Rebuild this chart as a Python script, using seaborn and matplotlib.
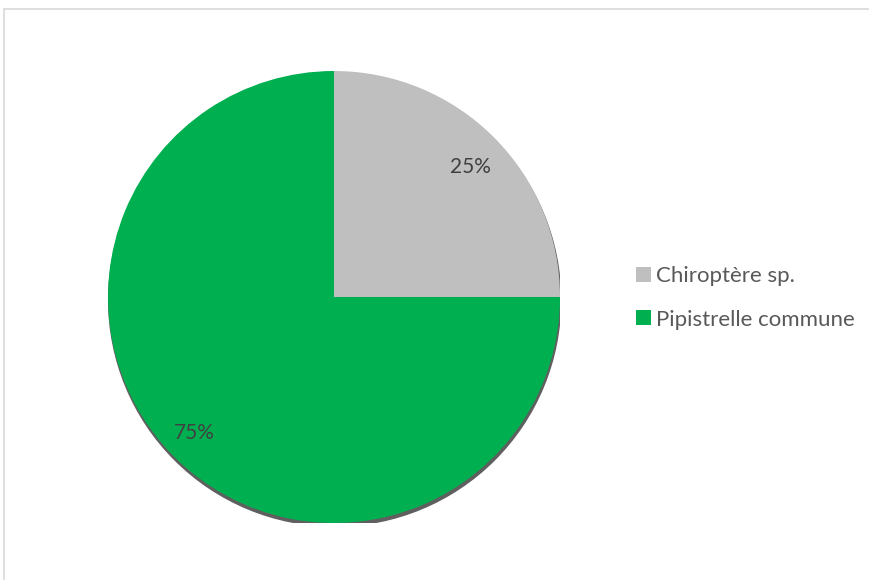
import matplotlib
matplotlib.use("Agg")
import matplotlib.pyplot as plt
import seaborn as sns
from matplotlib.patches import Circle
from matplotlib.lines import Line2D

categories = ["Chiroptère sp.", "Pipistrelle commune"]
values = [25, 75]
colors = ["#BFBFBF", "#00B050"]

sns.set_theme(style="white")
plt.rcParams['font.family'] = ['Lato', 'DejaVu Sans']

W, H = 870, 580
fig = plt.figure(figsize=(W / 100, H / 100), dpi=100)
fig.patch.set_facecolor("white")

# chart border (top and left visible)
bx, by = 4.5 / W, 1 - 8.5 / H
fig.add_artist(Line2D([bx, 1.01], [by, by], transform=fig.transFigure,
                      color="#D9D9D9", linewidth=1.2))
fig.add_artist(Line2D([bx, bx], [by, -0.01], transform=fig.transFigure,
                      color="#D9D9D9", linewidth=1.2))

cx, cy, r = 334, 297, 226
ax = fig.add_axes([(cx - r) / W, (H - cy - r) / H, 2 * r / W, 2 * r / H])

wedges, texts, autotexts = ax.pie(
    values, colors=colors, startangle=90, counterclock=False,
    autopct="%1.0f%%", pctdistance=0.84,
    textprops=dict(color="#404040", fontsize=15),
    wedgeprops=dict(linewidth=0),
)
autotexts[0].set_position((0.605, 0.575))
autotexts[1].set_position((-0.62, -0.60))
# soft shadow beneath the pie
shadow = Circle((0.003, -0.014), 1.0, color="#5F5F5F", zorder=0)
ax.add_patch(shadow)
for w in wedges:
    w.set_zorder(1)
for t in autotexts:
    t.set_zorder(3)

ax.set_xlim(-1, 1)
ax.set_ylim(-1, 1)
ax.set_aspect("equal")
ax.axis("off")

leg = fig.legend(wedges, categories, loc="center left",
                 bbox_to_anchor=(636 / W, 1 - 298 / H),
                 frameon=False, fontsize=16, labelcolor="#595959",
                 handlelength=0.66, handleheight=0.66, handletextpad=0.26,
                 labelspacing=1.05, borderaxespad=0, borderpad=0)

fig.savefig("out.png", dpi=100, facecolor="white")
